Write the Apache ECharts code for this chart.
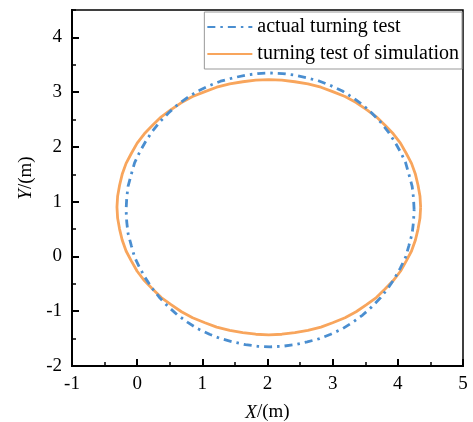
<!DOCTYPE html>
<html><head><meta charset="utf-8">
<script src="https://cdn.jsdelivr.net/npm/echarts@6/dist/echarts.min.js"></script>
<style>html,body{margin:0;padding:0;background:#fff}#c{width:473px;height:422px}</style>
</head><body><div id="c"></div>
<script>
const seriesNames = ['actual turning test', 'turning test of simulation'];
const xTicks = [-1, 0, 1, 2, 3, 4, 5];
const yTicks = [-2, -1, 0, 1, 2, 3, 4];
// actual turning test (X, Y) in m
const actualX = [4.25,4.24,4.22,4.17,4.12,4.04,3.95,3.85,3.73,3.60,3.46,3.31,3.15,2.97,2.80,2.61,2.42,2.23,2.04,
  1.85,1.66,1.47,1.28,1.11,0.93,0.77,0.62,0.48,0.35,0.23,0.13,0.04,-0.04,-0.09,-0.14,-0.16,-0.17,
  -0.16,-0.14,-0.09,-0.04,0.04,0.13,0.23,0.35,0.48,0.62,0.77,0.93,1.11,1.28,1.47,1.66,1.85,2.04,
  2.23,2.42,2.61,2.80,2.97,3.15,3.31,3.46,3.60,3.73,3.85,3.95,4.04,4.12,4.17,4.22,4.24,4.25];
const actualY = [0.85,1.07,1.28,1.50,1.71,1.91,2.10,2.28,2.46,2.62,2.77,2.90,3.02,3.12,3.20,3.26,3.31,3.34,3.35,
  3.34,3.31,3.26,3.20,3.12,3.02,2.90,2.77,2.62,2.46,2.28,2.10,1.91,1.71,1.50,1.28,1.07,0.85,
  0.63,0.42,0.20,-0.01,-0.21,-0.40,-0.58,-0.76,-0.92,-1.07,-1.20,-1.32,-1.42,-1.50,-1.56,-1.61,-1.64,-1.65,
  -1.64,-1.61,-1.56,-1.50,-1.42,-1.32,-1.20,-1.07,-0.92,-0.76,-0.58,-0.40,-0.21,-0.01,0.20,0.42,0.63,0.85];
// simulation (X, Y) in m
const simX = [4.35,4.34,4.31,4.27,4.21,4.13,4.04,3.93,3.80,3.67,3.52,3.36,3.19,3.00,2.82,2.62,2.42,2.22,2.02,
  1.82,1.62,1.42,1.22,1.04,0.85,0.68,0.52,0.37,0.24,0.11,0.00,-0.09,-0.17,-0.23,-0.27,-0.30,-0.31,
  -0.30,-0.27,-0.23,-0.17,-0.09,0.00,0.11,0.24,0.37,0.52,0.68,0.85,1.04,1.22,1.42,1.62,1.82,2.02,
  2.22,2.42,2.62,2.82,3.00,3.19,3.36,3.52,3.67,3.80,3.93,4.04,4.13,4.21,4.27,4.31,4.34,4.35];
const simY = [0.90,1.10,1.30,1.50,1.70,1.88,2.07,2.24,2.40,2.55,2.68,2.81,2.92,3.01,3.09,3.15,3.19,3.22,3.23,
  3.22,3.19,3.15,3.09,3.01,2.92,2.81,2.68,2.55,2.40,2.24,2.07,1.88,1.70,1.50,1.30,1.10,0.90,
  0.70,0.50,0.30,0.10,-0.08,-0.27,-0.44,-0.60,-0.75,-0.88,-1.01,-1.12,-1.21,-1.29,-1.35,-1.39,-1.42,-1.43,
  -1.42,-1.39,-1.35,-1.29,-1.21,-1.12,-1.01,-0.88,-0.75,-0.60,-0.44,-0.27,-0.08,0.10,0.30,0.50,0.70,0.90];

const font = '"Liberation Serif", "Times New Roman", serif';
const zip = (a, b) => a.map((v, i) => [v, b[i]]);
const chart = echarts.init(document.getElementById('c'), null, {renderer: 'canvas'});
const baseAxis = {
  type: 'value', splitLine: {show: false},
  axisLine: {show: true, onZero: false, lineStyle: {color: '#000', width: 2}},
};
chart.setOption({
  backgroundColor: '#fff',
  animation: false,
  grid: {left: 72, right: 10, top: 10, bottom: 56, outerBoundsMode: 'none', containLabel: false,
    show: true, borderColor: '#000', borderWidth: 1.5, backgroundColor: 'transparent'},
  legend: {
    right: 11, top: 12, orient: 'vertical', itemWidth: 45, itemHeight: 12, itemGap: 7,
    padding: [5, 3, 5, 2], backgroundColor: '#fff', borderColor: '#999', borderWidth: 1,
    itemStyle: {opacity: 0},
    textStyle: {fontFamily: font, fontSize: 20, color: '#000'},
    data: seriesNames
  },
  xAxis: [
    Object.assign({}, baseAxis, {
      min: xTicks[0], max: xTicks[xTicks.length - 1], interval: 1, position: 'bottom',
      axisTick: {inside: true, length: 7, lineStyle: {color: '#000', width: 2}},
      axisLabel: {fontFamily: font, fontSize: 19, color: '#000', margin: 9},
      name: '{i|X}/(m)', nameLocation: 'middle', nameGap: 37,
      nameTextStyle: {fontFamily: font, fontSize: 19, color: '#000', rich: {i: {fontFamily: font, fontStyle: 'italic', fontSize: 19}}}
    }),
    Object.assign({}, baseAxis, {
      min: -1, max: 5, interval: 0.5, position: 'bottom',
      axisTick: {inside: true, length: 4, lineStyle: {color: '#000', width: 1.5}},
      axisLabel: {show: false}
    })
  ],
  yAxis: [
    Object.assign({}, baseAxis, {
      min: yTicks[0], max: 4.5, interval: 1, position: 'left',
      axisTick: {inside: true, length: 7, lineStyle: {color: '#000', width: 2}},
      axisLabel: {fontFamily: font, fontSize: 19, color: '#000', margin: 10, showMaxLabel: false},
      name: '{i|Y}/(m)', nameLocation: 'middle', nameGap: 34, nameRotate: 90,
      nameTextStyle: {fontFamily: font, fontSize: 19, color: '#000', padding: [0, 0, 0, 20], rich: {i: {fontFamily: font, fontStyle: 'italic', fontSize: 19}}}
    }),
    Object.assign({}, baseAxis, {
      min: -2, max: 4.5, interval: 0.5, position: 'left',
      axisTick: {inside: true, length: 4, lineStyle: {color: '#000', width: 1.5}},
      axisLabel: {show: false}
    })
  ],
  series: [
    {
      name: seriesNames[0], type: 'line', data: zip(actualX, actualY), smooth: false,
      symbol: 'none', color: '#4a8ed0',
      lineStyle: {color: '#4a8ed0', width: 2.8, type: [8, 5, 2.5, 5]}, z: 3
    },
    {
      name: seriesNames[1], type: 'line', data: zip(simX, simY), smooth: false,
      symbol: 'none', color: '#f8a55c',
      lineStyle: {color: '#f8a55c', width: 2.8}, z: 2
    }
  ]
});
</script></body></html>
